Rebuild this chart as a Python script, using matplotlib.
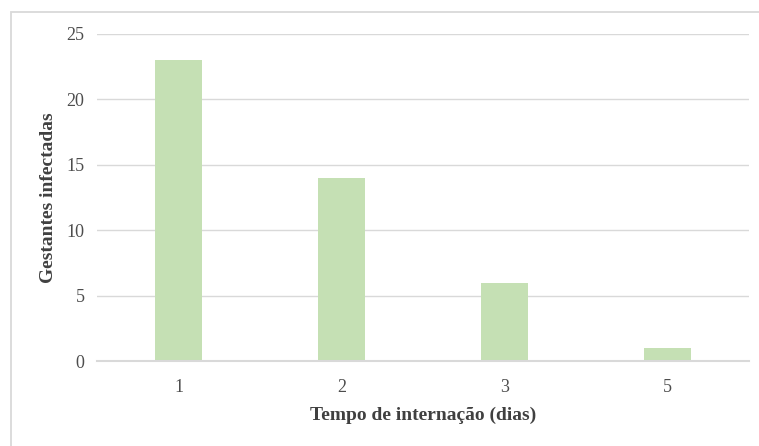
import matplotlib
matplotlib.use("Agg")
import matplotlib.pyplot as plt
from matplotlib.patches import Rectangle

categories = ["1", "2", "3", "5"]
values = [23, 14, 6, 1]
yticks = [0, 5, 10, 15, 20, 25]

plt.rcParams['font.family'] = ['Liberation Serif', 'DejaVu Serif']

fig = plt.figure(figsize=(7.59, 4.46), dpi=100)
fig.patches.append(Rectangle((11/759, -0.1), 2.0, 1 - 12/446 + 0.1, transform=fig.transFigure,
                             fill=False, edgecolor="#d9d9d9", linewidth=1.3, zorder=0))
ax = fig.add_axes([97/759, 1 - 361/446, (749 - 97)/759, (361 - 34)/446])

x = range(len(categories))
ax.bar(x, values, width=0.29, color="#c5e0b4", zorder=2)
ax.set_xlim(-0.5, len(categories) - 0.5)
ax.set_ylim(0, 25)
ax.set_yticks(yticks)
ax.set_xticks(list(x))
ax.set_xticklabels(categories)
ax.grid(axis="y", color="#d9d9d9", linewidth=1.0, zorder=0)
for s in ["top", "right", "left"]:
    ax.spines[s].set_visible(False)
ax.spines["bottom"].set_color("#d9d9d9")
ax.spines["bottom"].set_linewidth(1.5)
ax.tick_params(axis="both", length=0, labelsize=13, labelcolor="#4d4d4d")
ax.tick_params(axis="y", pad=9)
ax.tick_params(axis="x", pad=13)
ax.set_ylabel("Gestantes infectadas", fontsize=14, fontweight="bold", color="#404040", labelpad=7)
ax.set_xlabel("Tempo de internação (dias)", fontsize=14, fontweight="bold", color="#404040", labelpad=8)

fig.savefig("out.png", dpi=100)
